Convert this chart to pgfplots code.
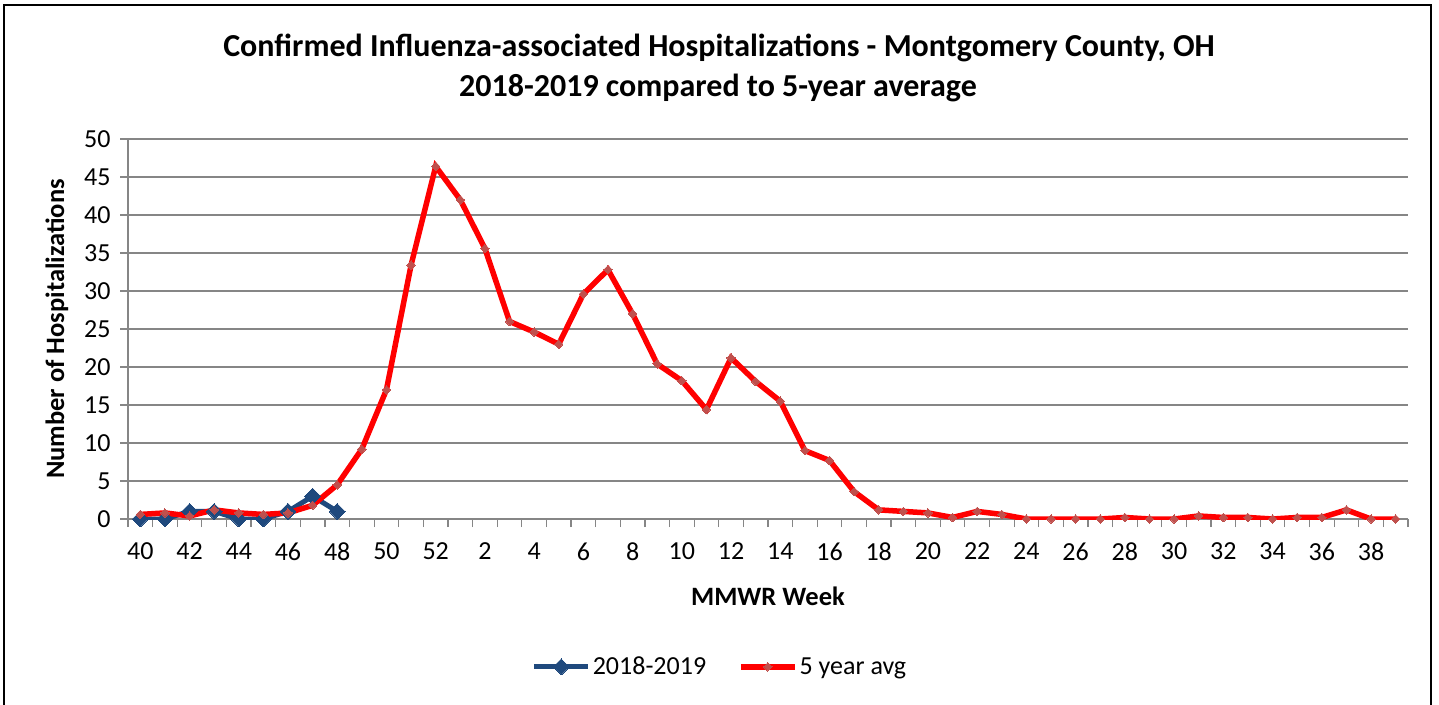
\documentclass[border=0pt]{standalone}
\usepackage{pgfplots}
\pgfplotsset{compat=1.18}
\usepackage{fontspec}
\setmainfont{Carlito}
\definecolor{blueS}{HTML}{1F497D}
\definecolor{redM}{HTML}{C0504D}
\definecolor{gridc}{HTML}{868686}
\begin{document}
\begin{tikzpicture}
\useasboundingbox (0pt,0pt) rectangle (1439pt,704pt);
\draw[line width=2.6pt] (4pt,-10pt) -- (4pt,699pt) -- (1431pt,699pt) -- (1431pt,-10pt);
\node[font=\fontsize{32}{38}\selectfont\bfseries] at (719pt,656pt) {Confirmed Influenza-associated Hospitalizations - Montgomery County, OH};
\node[font=\fontsize{32}{38}\selectfont\bfseries] at (718pt,616pt) {2018-2019 compared to 5-year average};
\begin{axis}[
  at={(128pt,185pt)}, anchor=south west,
  width=1280pt, height=380pt, scale only axis,
  xmin=-0.5, xmax=51.5, ymin=0, ymax=50,
  axis lines*=left,
  axis line style={draw=gridc, line width=1.2pt},
  ytick={0,5,...,50},
  xtick={0,2,...,50},
  xticklabels={40,42,44,46,48,50,52,2,4,6,8,10,12,14,16,18,20,22,24,26,28,30,32,34,36,38},
  minor xtick={-0.5,0.5,...,51.5},
  tick align=outside,
  major tick length=8pt, minor tick length=8pt,
  every major x tick/.append style={draw=none},
  every minor x tick/.append style={draw=gridc, line width=1.2pt},
  every major y tick/.append style={draw=gridc, line width=1.2pt},
  ymajorgrids,
  major grid style={draw=gridc, line width=1.2pt},
  /pgf/number format/assume math mode=true,
  tick label style={font=\fontsize{26}{31}\selectfont},
  yticklabel style={xshift=-6pt},
  xticklabel style={yshift=-12pt},
  xlabel={MMWR Week},
  ylabel={Number of Hospitalizations},
  label style={font=\fontsize{26.5}{31}\selectfont\bfseries},
  xlabel style={at={(axis description cs:0.5,-0.2026)}, anchor=center},
  ylabel style={at={(axis description cs:-0.0555,0.5)}, anchor=center},
  legend style={at={(0.4625,-0.389)}, anchor=center, draw=none, legend columns=2,
    font=\fontsize{26}{31}\selectfont,
    /tikz/every even column/.append style={column sep=30pt}},
  legend cell align=left,
  legend image code/.code={\draw[#1,mark repeat=2,mark phase=2] plot coordinates {(0pt,0pt)(27pt,0pt)(54pt,0pt)};},
]
\addplot[blueS, line width=5pt, mark=square*, mark size=5.6pt, mark options={rotate=45, line width=0pt, fill=blueS}] coordinates {
(0,0)(1,0)(2,1)(3,1)(4,0)(5,0)(6,1)(7,3)(8,1)
};
\addlegendentry{2018-2019}
\addplot[red, line width=5.5pt, mark=square*, mark size=3pt, mark options={rotate=45, line width=0pt, fill=redM, draw=redM}] coordinates {
(0,0.6)(1,0.8)(2,0.4)(3,1.2)(4,0.8)(5,0.6)(6,0.8)(7,1.8)(8,4.5)(9,9.2)
(10,17.0)(11,33.4)(12,46.4)(13,42.0)(14,35.6)(15,26.0)(16,24.6)(17,23.0)(18,29.6)(19,32.8)
(20,27.0)(21,20.4)(22,18.2)(23,14.4)(24,21.2)(25,18.1)(26,15.5)(27,9.0)(28,7.7)(29,3.6)
(30,1.2)(31,1.0)(32,0.8)(33,0.2)(34,1.0)(35,0.6)(36,0)(37,0)(38,0)(39,0)
(40,0.2)(41,0)(42,0)(43,0.4)(44,0.2)(45,0.2)(46,0)(47,0.2)(48,0.2)(49,1.2)
(50,0)(51,0)
};
\addlegendentry{5 year avg}
\end{axis}
\end{tikzpicture}
\end{document}
